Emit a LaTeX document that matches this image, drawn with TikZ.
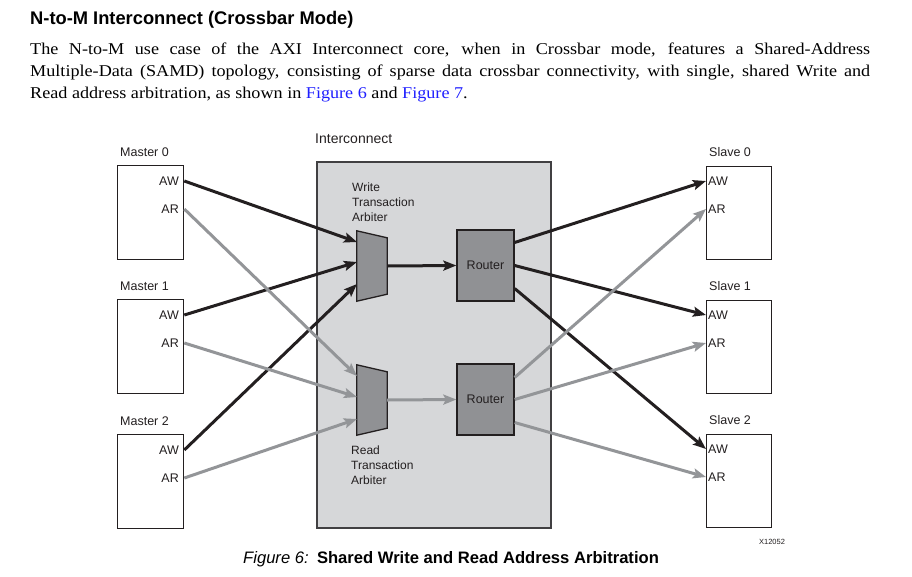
\documentclass[tikz,border=0pt]{standalone}
\usepackage{fontspec}
\setmainfont{Liberation Serif}
\newfontfamily\diag{Liberation Sans}
\newfontfamily\bodyfont{Liberation Serif}[FakeStretch=1.1]
\usetikzlibrary{arrows.meta,calc}
\definecolor{lk}{HTML}{231F20}
\definecolor{gr}{HTML}{939598}
\definecolor{icfill}{HTML}{D6D7D9}
\definecolor{icline}{HTML}{414042}
\definecolor{blk}{HTML}{909194}
\definecolor{linkblue}{HTML}{1F1FFF}
\begin{document}
\begin{tikzpicture}[x=1pt,y=-1pt,
  lbl/.style={font=\diag\fontsize{12.5}{14}\selectfont, inner sep=0pt, text=lk},
  ubox/.style={draw=lk, line width=1.3pt, fill=white, minimum width=66pt, minimum height=94pt, anchor=north west, inner sep=0pt},
  wire/.style={draw=lk, line width=3pt, -{Stealth[length=13pt,width=10pt,inset=2.5pt]}},
  rwire/.style={draw=gr, line width=3pt, -{Stealth[length=13pt,width=10pt,inset=2.5pt]}},
  arb/.style={draw=none, minimum width=30pt, minimum height=70pt, inner sep=0pt},
  router/.style={draw=lk, fill=blk, line width=1.3pt, minimum width=57pt, minimum height=71pt, inner sep=0pt, font=\diag\fontsize{12.5}{14}\selectfont, text=lk}]
\useasboundingbox (0,0) rectangle (912,576);

% heading and paragraph
\node[anchor=base west, inner sep=0pt, font=\diag\bfseries\fontsize{18.3}{20}\selectfont] (title) at (30,24) {N-to-M Interconnect (Crossbar Mode)};
\node[anchor=north west, inner sep=0pt, text width=840pt, align=justify, font=\bodyfont\fontsize{16.5}{22}\selectfont] (para) at (30,42.5)
{The N-to-M use case of the AXI Interconnect core, when in Crossbar mode, features a Shared-Address\linebreak
Multiple-Data (SAMD) topology, consisting of sparse data crossbar connectivity, with single, shared Write and\linebreak
Read address arbitration, as shown in \textcolor{linkblue}{Figure 6} and \textcolor{linkblue}{Figure 7}.};

% interconnect
\node[lbl, anchor=west, font=\diag\fontsize{14}{16}\selectfont] (iclbl) at (315,139) {Interconnect};
\node[draw=icline, fill=icfill, line width=1.5pt, anchor=north west, minimum width=234pt, minimum height=366pt, inner sep=0pt] (ic) at (316,161) {};

% masters
\foreach \i/\y in {0/165,1/299,2/434}{
  \node[lbl, anchor=west] (mlbl\i) at (120,\y-13) {Master \i};
  \node[ubox] (m\i) at (117,\y) {};
  \node[lbl, anchor=east] (m\i aw) at (179,\y+16) {AW};
  \node[lbl, anchor=east] (m\i ar) at (179,\y+44) {AR};
}
% slaves
\foreach \i/\y in {0/166,1/300,2/434}{
  \node[lbl, anchor=west] (slbl\i) at (709,\y-14) {Slave \i};
  \node[ubox, minimum width=65pt, minimum height=93pt] (s\i) at (706,\y) {};
  \node[lbl, anchor=west] (s\i aw) at (708,\y+15) {AW};
  \node[lbl, anchor=west] (s\i ar) at (708,\y+43) {AR};
}

% arbiters
\node[arb] (warb) at (372,266) {};
\node[arb] (rarb) at (372,400) {};
\foreach \a in {warb,rarb}{
  \filldraw[fill=blk, draw=lk, line width=1.3pt, line join=miter]
    (\a.north west) -- ($(\a.north east)+(0,7)$) -- ($(\a.south east)+(0,-7)$) -- (\a.south west) -- cycle;
}
\node[lbl, anchor=north west, align=left, font=\diag\fontsize{12}{15}\selectfont] (wlbl) at (352,183) {Write\\Transaction\\Arbiter};
\node[lbl, anchor=north west, align=left, font=\diag\fontsize{12}{15}\selectfont] (rlbl) at (351,446) {Read\\Transaction\\Arbiter};

% routers
\node[router] (wr) at (485.5,265.5) {Router};
\node[router] (rr) at (485.5,399.5) {Router};

% arbiter inputs
\coordinate (wi0) at (357,242);
\coordinate (wi1) at (357,262);
\coordinate (wi2) at (357,284);
\coordinate (ri0) at (357,376);
\coordinate (ri1) at (357,397);
\coordinate (ri2) at (357,419);

% write (black) paths
\draw[wire] (m0.east |- m0aw) -- (wi0);
\draw[wire] (m1.east |- m1aw) -- (wi1);
\draw[wire] (m2.east |- m2aw) -- (wi2);
\draw[wire] (warb.east) -- (wr.west);
\draw[wire] ($(wr.east)+(0,-23)$) -- (s0.west |- s0aw);
\draw[wire] (wr.east) -- (s1.west |- s1aw);
\draw[wire] ($(wr.east)+(0,23)$) -- (s2.west |- s2aw);

% read (gray) paths
\draw[rwire] (m0.east |- m0ar) -- (ri0);
\draw[rwire] (m1.east |- m1ar) -- (ri1);
\draw[rwire] (m2.east |- m2ar) -- (ri2);
\draw[rwire] (rarb.east) -- (rr.west);
\draw[rwire] ($(rr.east)+(0,-22)$) -- (s0.west |- s0ar);
\draw[rwire] (rr.east) -- (s1.west |- s1ar);
\draw[rwire] ($(rr.east)+(0,23)$) -- (s2.west |- s2ar);

% id and caption
\node[lbl, font=\diag\fontsize{7.5}{9}\selectfont] (xid) at (772,542) {X12052};
\node[anchor=base west, inner sep=0pt, font=\diag\fontsize{16.6}{18}\selectfont] (cap) at (243,563) {\textit{Figure 6:}\enspace\textbf{Shared Write and Read Address Arbitration}};
\end{tikzpicture}
\end{document}
